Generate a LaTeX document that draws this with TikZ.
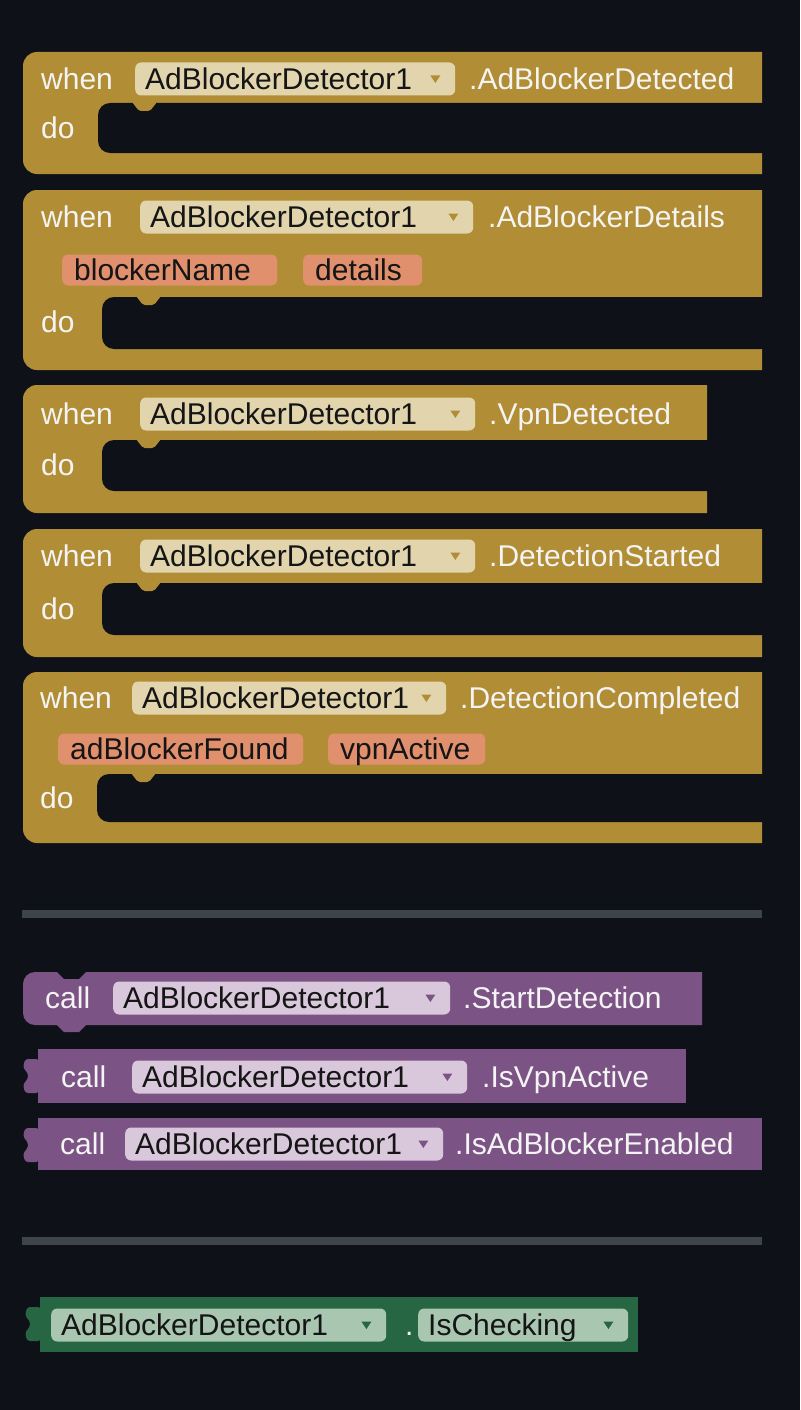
\documentclass[tikz,border=0pt]{standalone}
\usepackage{fontspec}
\setmainfont{Liberation Sans}
\usepackage{xcolor}
\definecolor{BgNavy}{HTML}{0E1118}
\definecolor{EvtGold}{HTML}{B18E35}
\definecolor{GoldPill}{HTML}{E2D5AD}
\definecolor{ParamPeach}{HTML}{E0906D}
\definecolor{CallPurple}{HTML}{7C5385}
\definecolor{PurplePill}{HTML}{D9C7DC}
\definecolor{GetGreen}{HTML}{266643}
\definecolor{GreenPill}{HTML}{A8C6B0}
\definecolor{RuleGray}{HTML}{3D444C}
\definecolor{LabelWhite}{HTML}{F4F4F4}
\definecolor{PillInk}{HTML}{151515}
\usepackage{tikz}

\tikzset{
  blk/.style={font=\fontsize{30}{34}\selectfont},
  word/.style={blk, anchor=west, inner sep=0pt, text height=21pt, text depth=0pt, text=LabelWhite},
  pill/.style={blk, anchor=west, inner xsep=10pt, inner ysep=0pt, rounded corners=6pt,
    minimum height=33pt, text height=21pt, text depth=0pt, text=PillInk, align=left, text width=#1},
  param/.style={pill=#1, inner xsep=12pt, minimum height=31pt, fill=ParamPeach}
}

% event block: top, slot top, slot bottom, bottom, right, slot left
\newcommand{\evtblock}[6]{%
  \fill[EvtGold] (#5,#1) -- (37,#1) arc[start angle=270,end angle=180,radius=14]
    -- (23,#4-14) arc[start angle=180,end angle=90,radius=14] -- (#5,#4) -- cycle;
  \fill[BgNavy] (#5+2,#2) -- (#6+12,#2) arc[start angle=270,end angle=180,radius=12]
    -- (#6,#3-12) arc[start angle=180,end angle=90,radius=12] -- (#5+2,#3) -- cycle;
  \fill[EvtGold, rounded corners=2pt] (#6+34,#2-1) -- (#6+41,#2+8) -- (#6+52,#2+8) -- (#6+59,#2-1) -- cycle;}

% dropdown arrow at the right end of a field
\newcommand{\ddtri}[2]{\fill[#2] ([xshift=-25pt,yshift=3.5pt]#1.east) -- ++(10,0) -- ++(-5,7.5) -- cycle;}

% output plug on the left of a value block: body left, top, colour
\newcommand{\plugtab}[3]{%
  \fill[#3, rounded corners=3pt] (#1+1,#2+10) -- (#1-13,#2+10) -- (#1-15,#2+19) -- (#1-10,#2+24)
    -- (#1-10,#2+30) -- (#1-15,#2+35) -- (#1-13,#2+44) -- (#1+1,#2+44) -- cycle;}

\begin{document}
\begin{tikzpicture}[x=1pt, y=-1pt]
  \fill[BgNavy] (0,0) rectangle (800,1410);
  \useasboundingbox (0,0) rectangle (800,1410);

  % AdBlockerDetected
  \evtblock{52}{103}{153}{174}{762}{98}
  \node[word] (when1) at (41,79) {when};
  \node[pill=300pt, fill=GoldPill] (comp1) at (135,79) {AdBlockerDetector1};
  \ddtri{comp1}{EvtGold}
  \node[word] (evt1) at (469,79) {.AdBlockerDetected};
  \node[word] (do1) at (41,128) {do};

  % AdBlockerDetails
  \evtblock{190}{297}{349}{370}{762}{102}
  \node[word] (when2) at (41,217) {when};
  \node[pill=313pt, fill=GoldPill] (comp2) at (140,217) {AdBlockerDetector1};
  \ddtri{comp2}{EvtGold}
  \node[word] (evt2) at (488,217) {.AdBlockerDetails};
  \node[param=191pt] (par2a) at (62,270) {blockerName};
  \node[param=95pt] (par2b) at (303,270) {details};
  \node[word] (do2) at (41,322) {do};

  % VpnDetected
  \evtblock{385}{440}{491}{513}{707}{102}
  \node[word] (when3) at (41,414) {when};
  \node[pill=315pt, fill=GoldPill] (comp3) at (140,414) {AdBlockerDetector1};
  \ddtri{comp3}{EvtGold}
  \node[word] (evt3) at (489,414) {.VpnDetected};
  \node[word] (do3) at (41,465) {do};

  % DetectionStarted
  \evtblock{529}{583}{635}{657}{762}{102}
  \node[word] (when4) at (41,556) {when};
  \node[pill=315pt, fill=GoldPill] (comp4) at (140,556) {AdBlockerDetector1};
  \ddtri{comp4}{EvtGold}
  \node[word] (evt4) at (489,556) {.DetectionStarted};
  \node[word] (do4) at (41,609) {do};

  % DetectionCompleted
  \evtblock{672}{774}{822}{843}{762}{97}
  \node[word] (when5) at (40,698) {when};
  \node[pill=294pt, fill=GoldPill] (comp5) at (132,698) {AdBlockerDetector1};
  \ddtri{comp5}{EvtGold}
  \node[word] (evt5) at (460,698) {.DetectionCompleted};
  \node[param=221pt] (par5a) at (58,749) {adBlockerFound};
  \node[param=133pt] (par5b) at (328,749) {vpnActive};
  \node[word] (do5) at (40,798) {do};

  \fill[RuleGray] (22,910) rectangle (762,918);

  % method calls
  \fill[CallPurple] (702,972) -- (86,972) -- (79,979) -- (64,979) -- (57,972) -- (35,972)
    arc[start angle=270,end angle=180,radius=12] -- (23,1013) arc[start angle=180,end angle=90,radius=12]
    -- (57,1025) -- (64,1032) -- (79,1032) -- (86,1025) -- (702,1025) -- cycle;
  \node[word] (call1) at (45,998) {call};
  \node[pill=317pt, fill=PurplePill] (comp6) at (113,998) {AdBlockerDetector1};
  \ddtri{comp6}{CallPurple}
  \node[word] (meth1) at (463,998) {.StartDetection};

  \fill[CallPurple] (38,1049) rectangle (686,1103);
  \plugtab{38}{1049}{CallPurple}
  \node[word] (call2) at (61,1077) {call};
  \node[pill=315pt, fill=PurplePill] (comp7) at (132,1077) {AdBlockerDetector1};
  \ddtri{comp7}{CallPurple}
  \node[word] (meth2) at (482,1077) {.IsVpnActive};

  \fill[CallPurple] (38,1118) rectangle (762,1170);
  \plugtab{38}{1118}{CallPurple}
  \node[word] (call3) at (60,1144) {call};
  \node[pill=298pt, fill=PurplePill] (comp8) at (125,1144) {AdBlockerDetector1};
  \ddtri{comp8}{CallPurple}
  \node[word] (meth3) at (455,1144) {.IsAdBlockerEnabled};

  \fill[RuleGray] (22,1237) rectangle (762,1245);

  % property getter
  \fill[GetGreen] (40,1297) rectangle (638,1352);
  \plugtab{40}{1297}{GetGreen}
  \node[pill=315pt, fill=GreenPill] (comp9) at (51,1325) {AdBlockerDetector1};
  \ddtri{comp9}{GetGreen}
  \node[word] (dot9) at (405,1325) {.};
  \node[pill=190pt, fill=GreenPill] (prop9) at (418,1325) {IsChecking};
  \ddtri{prop9}{GetGreen}
\end{tikzpicture}
\end{document}
